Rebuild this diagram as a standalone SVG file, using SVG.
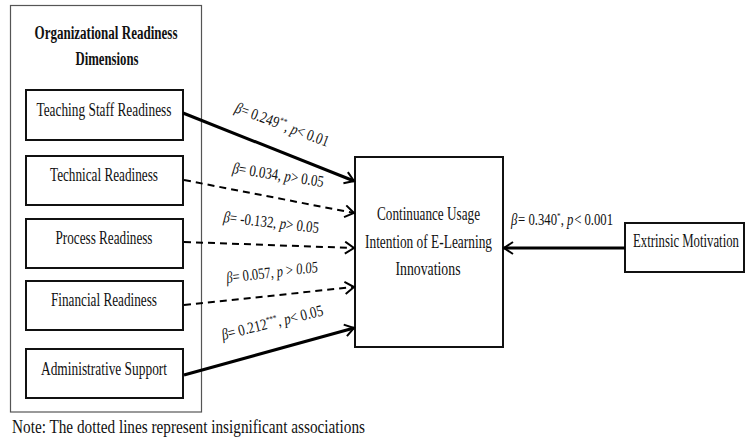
<svg xmlns="http://www.w3.org/2000/svg" width="746" height="446" viewBox="0 0 746 446">
<style>
text{font-family:"Liberation Serif","Times New Roman",serif;fill:#111}
.box{fill:#fff;stroke:#111;stroke-width:2}
.outer{fill:#fff;stroke:#555;stroke-width:1.2}
.lbl{font-size:19px;text-anchor:middle}
.ttl{font-size:18px;font-weight:bold;text-anchor:middle}
.coef{font-size:16px}
.it{font-style:italic}
.sup{font-size:9px;baseline-shift:6px}
.solid{stroke:#000;stroke-width:3;fill:none}
.dash{stroke:#000;stroke-width:2;fill:none;stroke-dasharray:7 5}
</style>
<defs>
<marker id="arr" markerUnits="userSpaceOnUse" markerWidth="14" markerHeight="16" refX="10" refY="7" orient="auto">
<path d="M1,1 L10,7 L1,13" fill="none" stroke="#000" stroke-width="2"/>
</marker>
</defs>
<rect width="746" height="446" fill="#fff"/>
<g id="org-readiness">
<rect class="outer" x="10.5" y="5.5" width="191" height="406.5"/>
<text class="ttl" x="106" y="39" textLength="143" lengthAdjust="spacingAndGlyphs">Organizational Readiness</text>
<text class="ttl" x="107" y="65" textLength="63" lengthAdjust="spacingAndGlyphs">Dimensions</text>
</g>
<g id="teaching">
<rect class="box" x="26" y="90" width="157" height="50"/>
<text class="lbl" x="104" y="116" textLength="135" lengthAdjust="spacingAndGlyphs">Teaching Staff Readiness</text>
</g>
<g id="technical">
<rect class="box" x="26" y="156" width="157" height="49"/>
<text class="lbl" x="104" y="181" textLength="108" lengthAdjust="spacingAndGlyphs">Technical Readiness</text>
</g>
<g id="process">
<rect class="box" x="26" y="219" width="157" height="49"/>
<text class="lbl" x="104" y="244" textLength="97" lengthAdjust="spacingAndGlyphs">Process Readiness</text>
</g>
<g id="financial">
<rect class="box" x="26" y="281" width="157" height="49"/>
<text class="lbl" x="104" y="306" textLength="106" lengthAdjust="spacingAndGlyphs">Financial Readiness</text>
</g>
<g id="administrative">
<rect class="box" x="26" y="349" width="157" height="49"/>
<text class="lbl" x="104" y="375" textLength="126" lengthAdjust="spacingAndGlyphs">Administrative Support</text>
</g>
<g id="continuance">
<rect class="box" x="355" y="157" width="148" height="190"/>
<text class="lbl" x="428.5" y="220" textLength="103" lengthAdjust="spacingAndGlyphs">Continuance Usage</text>
<text class="lbl" x="428.5" y="248" textLength="127" lengthAdjust="spacingAndGlyphs">Intention of E-Learning</text>
<text class="lbl" x="428" y="275" textLength="65" lengthAdjust="spacingAndGlyphs">Innovations</text>
</g>
<g id="extrinsic">
<rect class="box" x="625" y="223" width="119" height="49"/>
<text class="lbl" transform="translate(686,247) scale(0.672,1)">Extrinsic Motivation</text>
</g>
<g id="connectors">
<line class="solid" x1="183" y1="113" x2="354" y2="181" marker-end="url(#arr)"/>
<line class="dash" x1="184" y1="180" x2="354" y2="213" marker-end="url(#arr)"/>
<line class="dash" x1="184" y1="242" x2="354" y2="248" marker-end="url(#arr)"/>
<line class="dash" x1="184" y1="305" x2="354" y2="287" marker-end="url(#arr)"/>
<line class="solid" x1="184" y1="375" x2="354" y2="328" marker-end="url(#arr)"/>
<line class="solid" x1="625" y1="248" x2="504" y2="248" marker-end="url(#arr)"/>
<text class="coef" transform="translate(234,112) rotate(20.6)" textLength="99" lengthAdjust="spacingAndGlyphs"><tspan class="it">β</tspan>= 0.249<tspan class="sup">**</tspan>, <tspan class="it">p</tspan>&lt; 0.01</text>
<text class="coef" transform="translate(232,173) rotate(8.7)" textLength="92" lengthAdjust="spacingAndGlyphs"><tspan class="it">β</tspan>= 0.034, <tspan class="it">p</tspan>&gt; 0.05</text>
<text class="coef" transform="translate(223,222) rotate(6.6)" textLength="96" lengthAdjust="spacingAndGlyphs"><tspan class="it">β</tspan>= -0.132, <tspan class="it">p</tspan>&gt; 0.05</text>
<text class="coef" transform="translate(227,283) rotate(-6.9)" textLength="92" lengthAdjust="spacingAndGlyphs"><tspan class="it">β</tspan>= 0.057, <tspan class="it">p</tspan> &gt; <tspan class="it">0.05</tspan></text>
<text class="coef" transform="translate(223,340) rotate(-13.8)" textLength="104" lengthAdjust="spacingAndGlyphs"><tspan class="it">β</tspan>= 0.212<tspan class="sup">***</tspan>, <tspan class="it">p</tspan>&lt; 0.05</text>
<text class="coef" transform="translate(511,225) scale(0.795,1)"><tspan class="it">β</tspan><tspan dx="1">= 0.340</tspan><tspan class="sup">*</tspan>, <tspan class="it">p</tspan><tspan dx="1">&lt; 0.001</tspan></text>
</g>
<g id="note">
<text x="12" y="433" font-size="19" textLength="353" lengthAdjust="spacingAndGlyphs">Note: The dotted lines represent insignificant associations</text>
</g>
</svg>
